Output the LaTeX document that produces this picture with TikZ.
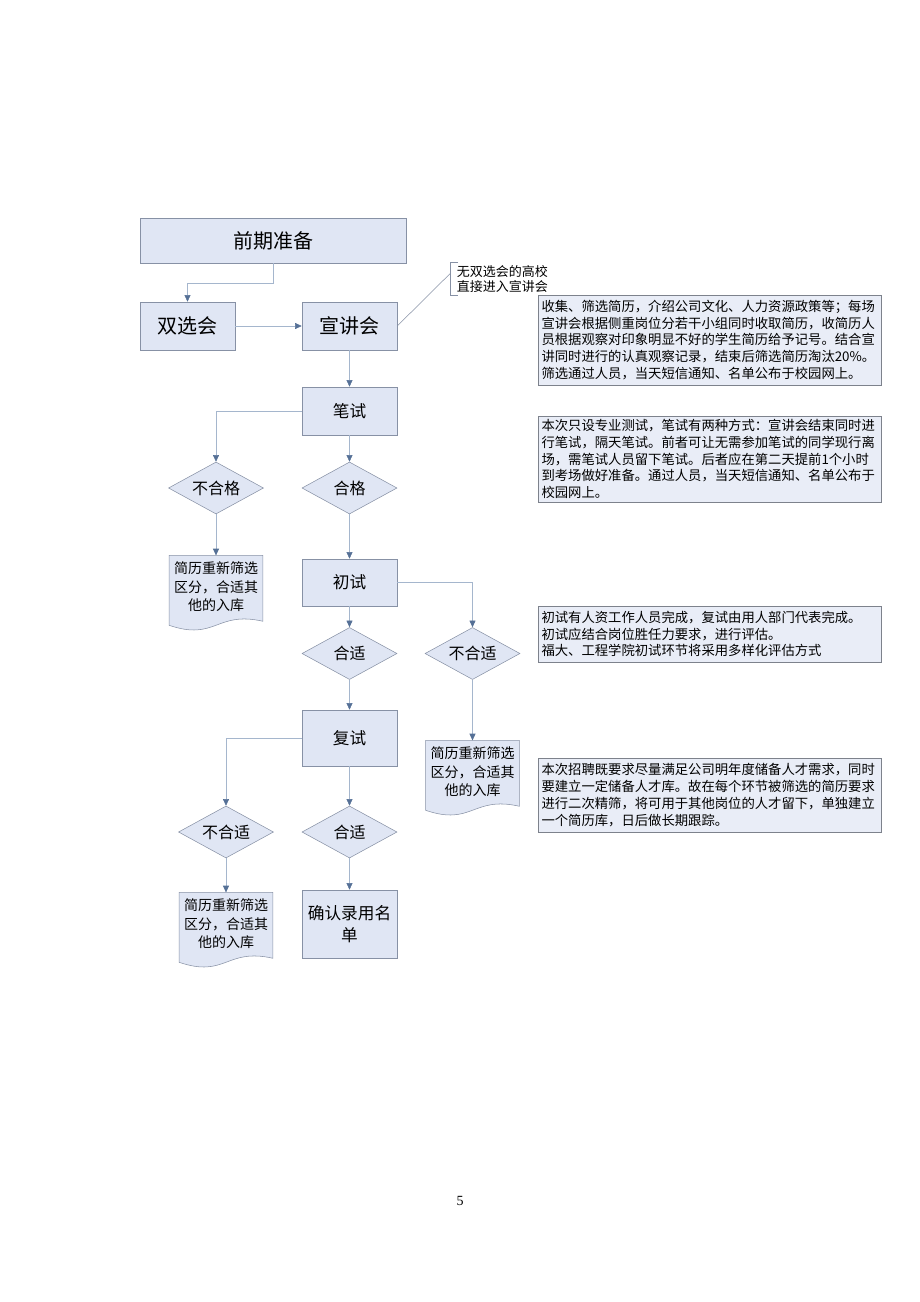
\documentclass[tikz,border=0pt]{standalone}
\usepackage{fontspec}
\setmainfont{Noto Sans CJK SC}
\newfontfamily\pagefont{Liberation Serif}
\usetikzlibrary{arrows.meta,shapes.geometric,calc}

\definecolor{boxfill}{RGB}{224,230,244}
\definecolor{boxline}{RGB}{135,145,165}
\definecolor{linkline}{RGB}{165,182,205}
\definecolor{tipblue}{RGB}{85,112,150}
\definecolor{notefill}{RGB}{233,237,247}
\definecolor{noteline}{RGB}{125,130,140}

\tikzset{
    proc/.style = {
        draw = boxline,
        fill = boxfill,
        minimum width = 71.25pt,
        minimum height = 36pt,
        inner sep = 1pt,
        align = center,
        font = \fontsize{12.5}{16}\selectfont,
        },
    big proc/.style = {
        proc,
        font = \fontsize{15}{18}\selectfont,
        },
    decision/.style = {
        diamond,
        aspect = 1.83,
        draw = boxline,
        fill = boxfill,
        minimum width = 71.25pt,
        minimum height = 39pt,
        inner sep = 0pt,
        font = \fontsize{12}{14}\selectfont,
        },
    docbox/.style = {
        minimum width = 70pt,
        minimum height = 47pt,
        inner sep = 1pt,
        align = center,
        font = \fontsize{10.5}{14}\selectfont,
        },
    note/.style = {
        draw = noteline,
        fill = notefill,
        text width = 252pt,
        inner xsep = 2.5pt,
        inner ysep = 1pt,
        align = left,
        font = \fontsize{10}{12.6}\selectfont,
        },
    link/.style = {
        draw = linkline,
        -{Triangle[length=5pt, width=4.5pt, color=tipblue]},
        },
    callout/.style = {
        align = left,
        inner xsep = 5pt,
        inner ysep = 2pt,
        font = \fontsize{9.75}{11.5}\selectfont,
        },
}

% document shape with a wavy bottom round a node
\newcommand{\docshape}[1]{%
    \draw[draw=boxline, fill=boxfill]
        (#1.north west) -- ([yshift=-5pt]#1.south west)
        .. controls ($(#1.south)+(0pt,-17pt)$) and ($(#1.south)+(0pt,6pt)$)
        .. ([yshift=-2pt]#1.south east) -- (#1.north east) -- cycle;
}

\begin{document}
\begin{tikzpicture}[x=0.75pt, y=-0.75pt]
    \useasboundingbox (0,0) rectangle (920,1302);

    % main column
    \node [big proc, minimum width=199.5pt, minimum height=33.75pt] (prep) at (273,240.5) {前期准备};
    \node [big proc] (shuang) at (187.5,326) {双选会};
    \node [big proc] (xuan) at (349.5,326) {宣讲会};
    \node [proc] (bishi) at (349.5,411) {笔试};
    \node [decision] (buhege) at (216,488) {不合格};
    \node [decision] (hege) at (349.5,488) {合格};
    \node [proc, minimum height=35.25pt] (chushi) at (349.5,582.5) {初试};
    \node [decision] (heshi1) at (349.5,653.5) {合适};
    \node [decision] (buheshi1) at (472.5,653.5) {不合适};
    \node [proc, minimum height=42pt] (fushi) at (349.5,738) {复试};
    \node [decision] (buheshi2) at (226,832) {不合适};
    \node [decision] (heshi2) at (349.5,832) {合适};
    \node [proc, minimum height=51pt] (queren) at (349.5,924) {确认录用名\\单};

    % documents
    \node [docbox] (doc1) at (216,587) {};
    \docshape{doc1}
    \node [docbox] at (doc1) {简历重新筛选\\区分，合适其\\他的入库};
    \node [docbox] (doc2) at (472.5,772) {};
    \docshape{doc2}
    \node [docbox] at (doc2) {简历重新筛选\\区分，合适其\\他的入库};
    \node [docbox] (doc3) at (226,924) {};
    \docshape{doc3}
    \node [docbox] at (doc3) {简历重新筛选\\区分，合适其\\他的入库};

    % callout
    \node [callout, anchor=west] (nodsx) at (450,279) {无双选会的高校\\直接进入宣讲会};
    \draw [draw=boxline] ([xshift=6pt]nodsx.north west) -- (nodsx.north west)
        -- (nodsx.south west) -- ([xshift=6pt]nodsx.south west);
    \draw [draw=boxline] (xuan.east) -- ([yshift=4pt]nodsx.west);

    % notes
    \node [note, minimum height=67.5pt] (note1) at (709.5,340) {收集、筛选简历，介绍公司文化、人力资源政策等；每场\\宣讲会根据侧重岗位分若干小组同时收取简历，收简历人\\员根据观察对印象明显不好的学生简历给予记号。结合宣\\讲同时进行的认真观察记录，结束后筛选简历淘汰20\%。\\筛选通过人员，当天短信通知、名单公布于校园网上。};
    \node [note, minimum height=64.5pt] (note2) at (709.5,459) {本次只设专业测试，笔试有两种方式：宣讲会结束同时进\\行笔试，隔天笔试。前者可让无需参加笔试的同学现行离\\场，需笔试人员留下笔试。后者应在第二天提前1个小时\\到考场做好准备。通过人员，当天短信通知、名单公布于\\校园网上。};
    \node [note, minimum height=42pt] (note3) at (709.5,634) {初试有人资工作人员完成，复试由用人部门代表完成。\\初试应结合岗位胜任力要求，进行评估。\\福大、工程学院初试环节将采用多样化评估方式};
    \node [note, minimum height=55.5pt] (note4) at (709.5,795) {本次招聘既要求尽量满足公司明年度储备人才需求，同时\\要建立一定储备人才库。故在每个环节被筛选的简历要求\\进行二次精筛，将可用于其他岗位的人才留下，单独建立\\一个简历库，日后做长期跟踪。};

    % connectors
    \draw [link] (prep.south) -- ++(0,20) -| (shuang.north);
    \draw [link] (shuang) -- (xuan);
    \draw [link] (xuan) -- (bishi);
    \draw [link] (bishi.west) -| (buhege.north);
    \draw [link] (bishi) -- (hege);
    \draw [link] (buhege) -- (doc1.north);
    \draw [link] (hege) -- (chushi);
    \draw [link] (chushi.east) -| (buheshi1.north);
    \draw [link] (chushi) -- (heshi1);
    \draw [link] (buheshi1) -- (doc2.north);
    \draw [link] (heshi1) -- (fushi);
    \draw [link] (fushi.west) -| (buheshi2.north);
    \draw [link] (fushi) -- (heshi2);
    \draw [link] (buheshi2) -- (doc3.north);
    \draw [link] (heshi2) -- (queren);

    % page number
    \node [font=\pagefont\fontsize{10.5}{12}\selectfont] (pagenum) at (460,1201) {5};
\end{tikzpicture}
\end{document}
